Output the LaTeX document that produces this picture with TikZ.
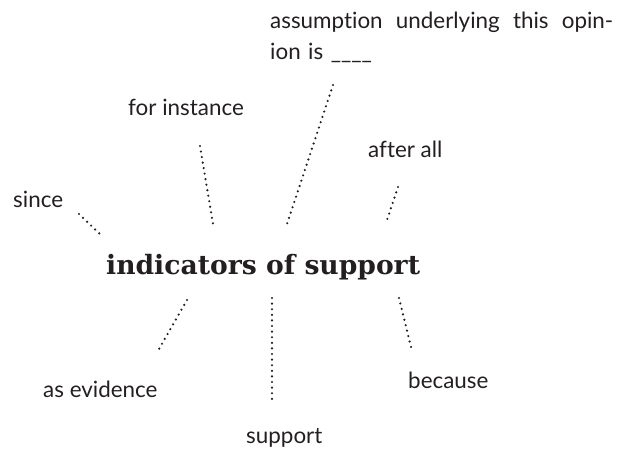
\documentclass[tikz,border=0pt]{standalone}
\usepackage{fontspec}
\setmainfont{Lato}[RawFeature=-liga]
\newfontfamily\slabfont{DejaVu Serif}
\definecolor{ink}{HTML}{231F20}

\begin{document}
\begin{tikzpicture}[x=1pt,y=-1pt,
	word/.style={anchor=base west,inner sep=0pt,text=ink,font=\fontsize{22.4}{31}\selectfont},
	headword/.style={anchor=base west,inner sep=0pt,text=ink,font=\slabfont\bfseries\fontsize{26.6}{30}\selectfont},
	dotline/.style={draw=ink,line width=2.4pt,line cap=round,dash pattern=on 0pt off 5.6pt}]
	\useasboundingbox (0,0) rectangle (628,453);
	\node[headword] (indicators) at (106,274) {indicators of support};
	\node[word] (since) at (13,207) {since};
	\node[word] (forinstance) at (128,115) {for instance};
	\node[word,anchor=north west,text width=343pt,align=left] (assumption) at (270,12) {\hbox to 343pt{assumption\hfill underlying\hfill this\hfill opin-}\\ion is \_\_\_\_};
	\node[word] (afterall) at (368,157) {after all};
	\node[word] (evidence) at (43,397) {as evidence};
	\node[word] (supportword) at (246,443) {support};
	\node[word] (because) at (408,388) {because};
	\coordinate (since-a) at (79,214);
	\coordinate (since-b) at (102,236);
	\coordinate (forinstance-a) at (200,146);
	\coordinate (forinstance-b) at (213,224);
	\coordinate (assumption-a) at (333,85);
	\coordinate (assumption-b) at (287,224);
	\coordinate (afterall-a) at (398,187);
	\coordinate (afterall-b) at (386,223);
	\coordinate (evidence-a) at (187,300);
	\coordinate (evidence-b) at (159,349);
	\coordinate (supportword-a) at (272,298);
	\coordinate (supportword-b) at (272,403);
	\coordinate (because-a) at (399,298);
	\coordinate (because-b) at (412,351);
	\draw[dotline] (since-a) -- (since-b);
	\draw[dotline] (forinstance-a) -- (forinstance-b);
	\draw[dotline] (assumption-a) -- (assumption-b);
	\draw[dotline] (afterall-a) -- (afterall-b);
	\draw[dotline] (evidence-a) -- (evidence-b);
	\draw[dotline] (supportword-a) -- (supportword-b);
	\draw[dotline] (because-a) -- (because-b);
\end{tikzpicture}
\end{document}
